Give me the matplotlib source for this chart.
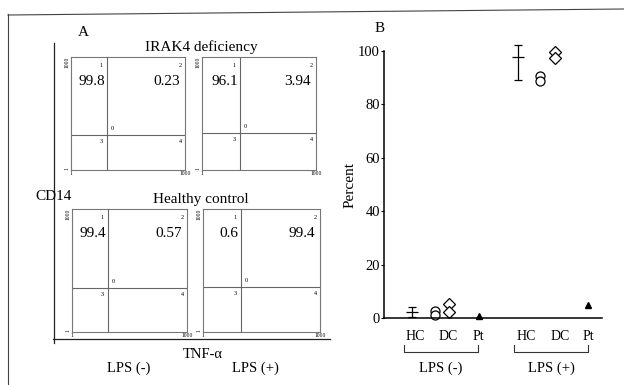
import matplotlib
matplotlib.use("Agg")
import matplotlib.pyplot as plt
import matplotlib.transforms as mtransforms

plt.rcParams['font.family'] = ['Liberation Serif', 'DejaVu Serif']

# ---- panel A: flow cytometry quadrants (log 1..1000) ----
flow_titles = ["IRAK4 deficiency", "Healthy control"]
flow_gate_x = [8.9, 10.0, 8.7, 9.4]
flow_gate_y = [8.5, 9.6, 11.8, 12.6]
flow_upper_left = ["99.8", "96.1", "99.4", "0.6"]
flow_upper_right = ["0.23", "3.94", "0.57", "99.4"]

# ---- panel B: percent of TNF-a+ cells ----
cat_labels = ["HC", "DC", "Pt", "HC", "DC", "Pt"]
cat_x = [1.42, 2.94, 4.31, 6.51, 8.07, 9.36]
group_labels = ["LPS (-)", "LPS (+)"]
group_span = [(0.92, 4.31), (5.96, 9.36)]

hc_x = [1.28, 6.15]
hc_mid = [2.2, 97.6]
hc_lo = [1.8, 8.3]
hc_hi = [1.9, 4.6]
dc_circle_x = [2.34, 2.34, 7.16, 7.16]
dc_circle_y = [2.6, 1.1, 90.6, 88.8]
dc_diamond_x = [2.98, 2.98, 7.84, 7.84]
dc_diamond_y = [5.2, 2.2, 99.6, 97.4]
pt_x = [4.36, 9.36]
pt_y = [0.7, 4.9]

W, H = 624, 385
fig = plt.figure(figsize=(W / 100, H / 100), dpi=100)


def rect(x0, y0, x1, y1):
    return [x0 / W, 1 - y1 / H, (x1 - x0) / W, (y1 - y0) / H]


bg = fig.add_axes([0, 0, 1, 1])
bg.set_xlim(0, W)
bg.set_ylim(H, 0)
bg.axis('off')
# outer frame and panel-A bracket lines
bg.plot([8, 8], [14, 385], color='#444', lw=0.8)
bg.plot([8, 624], [15, 9], color='#444', lw=0.8)
bg.plot([54, 54], [43, 343], color='#222', lw=0.9)
bg.plot([53, 330], [339, 339], color='#222', lw=0.9)

bg.text(83, 32, "A", fontsize=11, ha='center', va='center')
bg.text(201, 47, flow_titles[0], fontsize=11, ha='center', va='center')
bg.text(201, 200, flow_titles[1], fontsize=11, ha='center', va='center')
bg.text(54, 197, "CD14", fontsize=11, ha='center', va='center')
bg.text(203, 354, "TNF-α", fontsize=10.5, ha='center', va='center')
bg.text(129, 368, "LPS (-)", fontsize=10.5, ha='center', va='center')
bg.text(255, 368, "LPS (+)", fontsize=10.5, ha='center', va='center')
bg.text(380, 29, "B", fontsize=11, ha='center', va='center')

boxes = [(71, 57, 185, 170), (202, 57, 316, 170),
         (72, 209, 187, 332), (203, 209, 320, 332)]
for i, b in enumerate(boxes):
    ax = fig.add_axes(rect(*b))
    ax.set_xscale('log')
    ax.set_yscale('log')
    ax.set_xlim(1, 1000)
    ax.set_ylim(1, 1000)
    for s in ax.spines.values():
        s.set_color('#777')
        s.set_linewidth(0.8)
    ax.minorticks_off()
    ax.set_xticks([1, 1000])
    ax.set_xticklabels(['1', '1000'])
    ax.set_yticks([1, 1000])
    ylabs = ax.set_yticklabels(['1', '1000'], rotation=90)
    ylabs[0].set_va('bottom')
    ylabs[1].set_va('top')
    ax.tick_params(length=0, labelsize=4, pad=1)
    gx, gy = flow_gate_x[i], flow_gate_y[i]
    ax.axvline(gx, color='#666', lw=0.8)
    ax.axhline(gy, color='#666', lw=0.8)
    kw = dict(textcoords='offset points', fontsize=4.5)
    ax.annotate("1", (gx, 1000), xytext=(-3, -4), ha='right', va='top', **kw)
    ax.annotate("2", (1000, 1000), xytext=(-2, -4), ha='right', va='top', **kw)
    ax.annotate("3", (gx, gy), xytext=(-3, -3), ha='right', va='top', **kw)
    ax.annotate("4", (1000, gy), xytext=(-2, -3), ha='right', va='top', **kw)
    ax.annotate("0", (gx, gy), xytext=(3, 3), ha='left', va='bottom', **kw)
    ax.annotate(flow_upper_left[i], (gx, 1000), xytext=(-1.5, -13),
                textcoords='offset points', ha='right', va='top', fontsize=11)
    ax.annotate(flow_upper_right[i], (1000, 1000), xytext=(-3.5, -13),
                textcoords='offset points', ha='right', va='top', fontsize=11)

# ---- panel B ----
axb = fig.add_axes(rect(384, 51, 602, 318))
axb.set_xlim(0, 10)
axb.set_ylim(0, 100)
for s in ['top', 'right']:
    axb.spines[s].set_visible(False)
axb.spines['left'].set_linewidth(1.1)
axb.spines['bottom'].set_linewidth(1.1)
axb.set_yticks([0, 20, 40, 60, 80, 100])
axb.tick_params(axis='y', length=2, labelsize=10.5, pad=1)
axb.set_xticks(cat_x)
axb.set_xticklabels(cat_labels)
axb.tick_params(axis='x', length=0, labelsize=10, pad=9)
axb.set_ylabel("Percent", fontsize=11, labelpad=1)

axb.errorbar(hc_x, hc_mid, yerr=[hc_lo, hc_hi], fmt='_', color='black',
             ms=9, mew=0.9, elinewidth=0.9, capsize=3, capthick=0.9,
             clip_on=False)
axb.plot(dc_circle_x, dc_circle_y, 'o', mfc='white', mec='black', ms=6.5,
         mew=0.9, ls='none', clip_on=False)
axb.plot(dc_diamond_x, dc_diamond_y, 'D', mfc='white', mec='black', ms=6.5,
         mew=0.9, ls='none', clip_on=False)
axb.plot(pt_x, pt_y, '^', color='black', ms=4.5, ls='none', clip_on=False)

trans = mtransforms.blended_transform_factory(axb.transData, axb.transAxes)
for (x0, x1), lab in zip(group_span, group_labels):
    axb.plot([x0, x0, x1, x1], [-0.1, -0.127, -0.127, -0.1], color='#333',
             lw=0.8, transform=trans, clip_on=False)
    axb.text((x0 + x1) / 2, -0.19, lab, transform=trans, fontsize=10.5,
             ha='center', va='center')

fig.savefig("out.png", dpi=100)
